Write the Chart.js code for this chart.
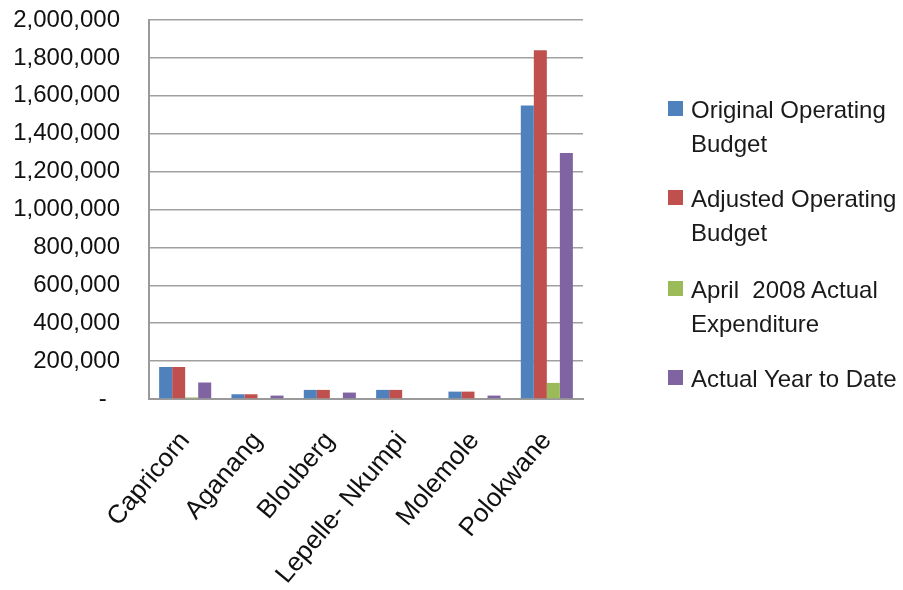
<!DOCTYPE html>
<html>
<head>
<meta charset="utf-8">
<script src="https://cdn.jsdelivr.net/npm/chart.js@4/dist/chart.umd.min.js"></script>
<style>
  html, body { margin: 0; padding: 0; background: #fff; }
  #wrap { position: relative; width: 903px; height: 590px; }
  #c { position: absolute; left: 0; top: 0; }
  .lg { position: absolute; left: 668px; font-family: "Liberation Sans", Arial, sans-serif; font-size: 24px; line-height: 34px; color: #1a1a1a; white-space: pre; }
  .lg .sq { position: absolute; left: 0; top: 8px; width: 15px; height: 15px; }
  .lg .tx { position: absolute; left: 23px; top: 0; }
</style>
</head>
<body>
<div id="wrap">
  <canvas id="c" width="903" height="590"></canvas>
</div>
<script>
const categories = ["Capricorn", "Aganang", "Blouberg", "Lepelle- Nkumpi", "Molemole", "Polokwane"];
const seriesNames = ["Original Operating\nBudget", "Adjusted Operating\nBudget", "April  2008 Actual\nExpenditure", "Actual Year to Date"];
const originalBudget = [169000, 25000, 48000, 48000, 39000, 1549000];
const adjustedBudget = [169000, 25000, 48000, 48000, 39000, 1841000];
const aprilExpenditure = [8000, 0, 0, 0, 0, 85000];
const actualYTD = [87000, 18000, 34000, 0, 18000, 1298000];
const yTicks = [0, 200000, 400000, 600000, 800000, 1000000, 1200000, 1400000, 1600000, 1800000, 2000000];
const colors = ["#4F81BD", "#C0504D", "#9BBB59", "#8064A2"];

const seriesValues = [originalBudget, adjustedBudget, aprilExpenditure, actualYTD];
const FONT = "'Liberation Sans', Arial, sans-serif";

// HTML legend (two-line entries like the reference)
const wrap = document.getElementById('wrap');
const tops = [93, 182, 273, 362];
seriesNames.forEach((name, i) => {
  const d = document.createElement('div');
  d.className = 'lg';
  d.style.top = tops[i] + 'px';
  const sq = document.createElement('div');
  sq.className = 'sq';
  sq.style.background = colors[i];
  const tx = document.createElement('div');
  tx.className = 'tx';
  tx.textContent = name;
  d.appendChild(sq);
  d.appendChild(tx);
  wrap.appendChild(d);
});

new Chart(document.getElementById('c'), {
  type: 'bar',
  data: {
    labels: categories,
    datasets: seriesValues.map((vals, i) => ({
      label: seriesNames[i].replace('\n', ' '),
      data: vals,
      backgroundColor: colors[i],
      borderWidth: 0,
      categoryPercentage: 0.72,
      barPercentage: 1.0
    }))
  },
  options: {
    responsive: false,
    animation: false,
    layout: { padding: { left: 0, right: 320, top: 20, bottom: 0 } },
    plugins: { legend: { display: false }, tooltip: { enabled: false } },
    scales: {
      x: {
        grid: { display: false, drawTicks: false },
        border: { display: true, color: '#9a9a9a', width: 2 },
        ticks: {
          autoSkip: false,
          minRotation: 50,
          maxRotation: 50,
          padding: 27,
          color: '#111',
          font: { family: FONT, size: 26 }
        },
        afterFit: (s) => { s.height = 191; s.paddingLeft = 0; s.paddingRight = 0; }
      },
      y: {
        min: 0,
        max: 2000000,
        afterBuildTicks: (s) => { s.ticks = yTicks.map(v => ({ value: v })); },
        grid: { color: '#a0a0a0', lineWidth: 1.5, drawTicks: false },
        border: { display: true, color: '#9a9a9a', width: 2 },
        ticks: {
          padding: 29,
          color: '#111',
          font: { family: FONT, size: 24 },
          callback: (v) => v === 0 ? '-  ' : v.toLocaleString('en-US')
        },
        afterFit: (s) => { s.width = 149; s.paddingTop = 0; s.paddingBottom = 0; }
      }
    }
  }
});
</script>
</body>
</html>
